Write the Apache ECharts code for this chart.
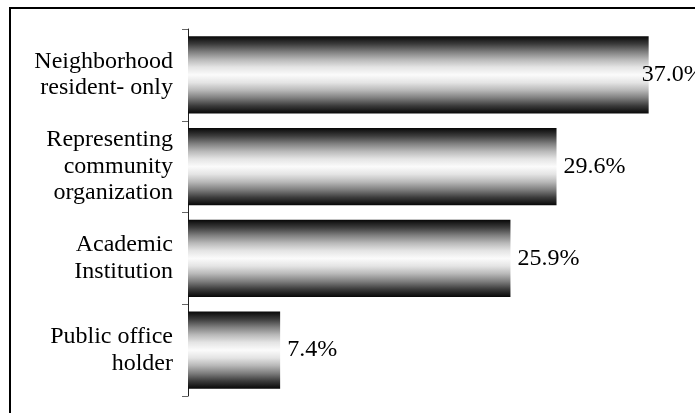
<!DOCTYPE html>
<html>
<head>
<meta charset="utf-8">
<script src="https://cdn.jsdelivr.net/npm/echarts@6/dist/echarts.min.js"></script>
<style>
html,body{margin:0;padding:0;background:#fff;}
#chart{width:695px;height:413px;}
</style>
</head>
<body>
<div id="chart"></div>
<script>
var categories = ['Neighborhood\nresident- only', 'Representing\ncommunity\norganization', 'Academic\nInstitution', 'Public office\nholder'];
var values = [37.0, 29.6, 25.9, 7.4];

var chart = echarts.init(document.getElementById('chart'), null, {renderer: 'canvas'});
var FONT = 'Liberation Serif';

var barGradient = new echarts.graphic.LinearGradient(0, 0, 0, 1, [
  {offset: 0, color: '#080808'},
  {offset: 0.1, color: '#3c3c3c'},
  {offset: 0.2, color: '#7e7e7e'},
  {offset: 0.3, color: '#b8b8b8'},
  {offset: 0.4, color: '#e4e4e4'},
  {offset: 0.5, color: '#fbfbfb'},
  {offset: 0.6, color: '#e4e4e4'},
  {offset: 0.7, color: '#b8b8b8'},
  {offset: 0.8, color: '#7e7e7e'},
  {offset: 0.9, color: '#3c3c3c'},
  {offset: 1, color: '#080808'}
]);

var seriesData = values.map(function (v, i) {
  if (i === 0) {
    return {value: v, label: {distance: -7}};
  }
  return v;
});

chart.setOption({
  animation: false,
  backgroundColor: '#fff',
  textStyle: {fontFamily: FONT},
  graphic: [{
    type: 'rect',
    shape: {x: 10, y: 8, width: 720, height: 440},
    style: {fill: 'none', stroke: '#000', lineWidth: 2},
    silent: true,
    z: 100
  }],
  grid: {left: 188, top: 29, width: 498, height: 367, containLabel: false},
  xAxis: {
    type: 'value',
    min: 0,
    max: 40,
    show: false
  },
  yAxis: {
    type: 'category',
    inverse: true,
    data: categories,
    axisLine: {show: true, lineStyle: {color: '#222', width: 1}},
    axisTick: {show: true, inside: false, length: 6, lineStyle: {color: '#666'}},
    axisLabel: {
      margin: 15,
      color: '#000',
      fontFamily: FONT,
      fontSize: 24,
      lineHeight: 26.5,
      padding: [0, 0, 5, 0],
      align: 'right'
    },
    splitLine: {show: false}
  },
  series: [{
    type: 'bar',
    data: seriesData,
    barCategoryGap: '16%',
    itemStyle: {color: barGradient},
    label: {
      show: true,
      position: 'right',
      distance: 7,
      color: '#000',
      fontFamily: FONT,
      fontSize: 24,
      formatter: function (p) { return p.value.toFixed(1) + '%'; }
    }
  }]
});
</script>
</body>
</html>
